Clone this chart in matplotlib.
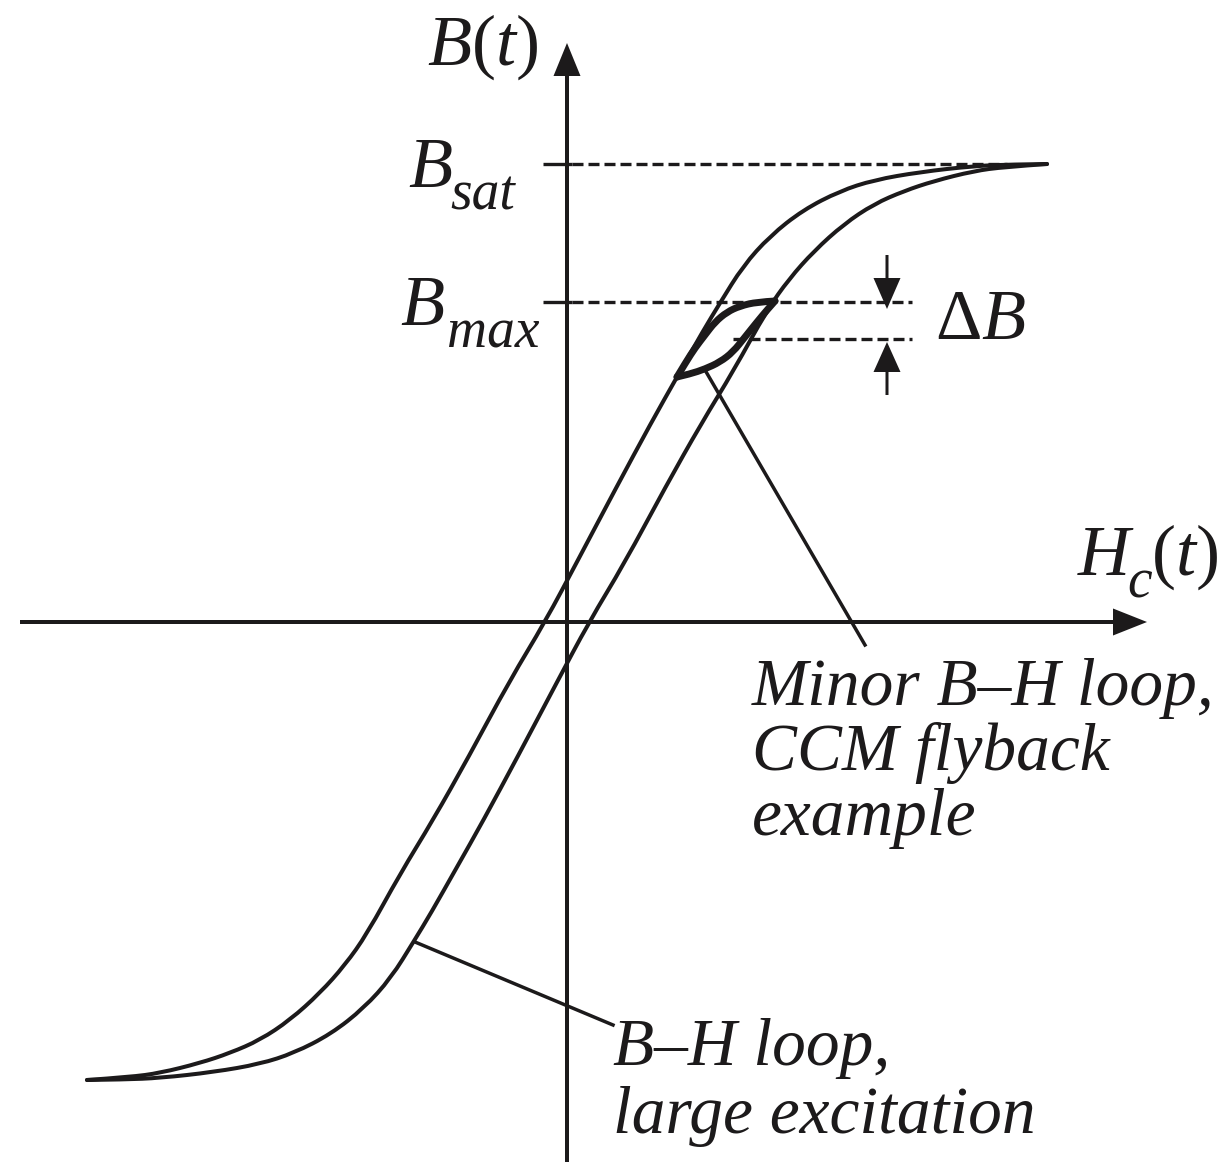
import matplotlib.pyplot as plt
from matplotlib.path import Path
from matplotlib.patches import PathPatch

plt.rcParams["font.family"] = ["Liberation Serif", "DejaVu Serif"]
plt.rcParams["mathtext.fontset"] = "custom"
plt.rcParams["mathtext.rm"] = "Liberation Serif"
plt.rcParams["mathtext.it"] = "Liberation Serif:italic"

INK = "#1c1a1b"

# large-excitation B-H loop, left (descending) branch
h_left = [-4.80, -4.37, -4.07, -3.67, -3.37, -3.07, -2.77, -2.47, -2.22, -2.00,
          -1.67, -1.34, -0.99, -0.57, -0.22, 0.11, 0.49, 0.84, 1.10, 1.36,
          1.53, 1.76, 2.03, 2.36, 2.73, 3.07, 3.53, 4.07, 4.43, 4.80]
b_left = [-4.58, -4.55, -4.51, -4.41, -4.31, -4.18, -3.98, -3.71, -3.43, -3.12,
          -2.52, -1.98, -1.36, -0.58, 0.00, 0.62, 1.34, 1.99, 2.45, 2.91,
          3.19, 3.56, 3.86, 4.12, 4.31, 4.42, 4.50, 4.56, 4.575, 4.58]

# right (ascending) branch
h_right = [-4.80, -4.43, -4.07, -3.53, -3.07, -2.73, -2.36, -2.03, -1.76, -1.53,
           -1.36, -1.10, -0.84, -0.49, -0.11, 0.22, 0.57, 0.99, 1.34, 1.67,
           2.00, 2.22, 2.47, 2.77, 3.07, 3.37, 3.67, 4.07, 4.37, 4.80]
b_right = [-4.58, -4.575, -4.56, -4.50, -4.42, -4.31, -4.12, -3.86, -3.56, -3.19,
           -2.91, -2.45, -1.99, -1.34, -0.62, 0.00, 0.58, 1.36, 1.98, 2.52,
           3.12, 3.43, 3.71, 3.98, 4.18, 4.31, 4.41, 4.51, 4.55, 4.58]

# minor loop (CCM flyback)
h_minor_up = [1.10, 1.19, 1.28, 1.38, 1.48, 1.60, 1.73, 1.90, 2.08]
b_minor_up = [2.45, 2.60, 2.74, 2.87, 3.00, 3.10, 3.16, 3.20, 3.21]
h_minor_dn = [1.10, 1.23, 1.38, 1.53, 1.66, 1.78, 1.90, 2.00, 2.08]
b_minor_dn = [2.45, 2.48, 2.53, 2.60, 2.70, 2.85, 3.00, 3.12, 3.21]

b_sat = 4.58
b_max = 3.20
b_low = 2.83   # lower edge of the delta-B band


def smooth_curve(ax, xs, ys, **kw):
    """Quadratic spline through the midpoints, points used as control nodes."""
    pts = list(zip(xs, ys))
    verts = [pts[0]]
    codes = [Path.MOVETO]
    for i in range(1, len(pts) - 1):
        mid = ((pts[i][0] + pts[i + 1][0]) / 2, (pts[i][1] + pts[i + 1][1]) / 2)
        if i == len(pts) - 2:
            mid = pts[-1]
        verts += [pts[i], mid]
        codes += [Path.CURVE3, Path.CURVE3]
    patch = PathPatch(Path(verts, codes), fill=False, edgecolor=INK,
                      capstyle="round", joinstyle="round", **kw)
    ax.add_patch(patch)


fig = plt.figure(figsize=(12.32, 11.67), dpi=100)
ax = fig.add_axes([0, 0, 1, 1])
ax.set_xlim(-5.67, 6.65)
ax.set_ylim(-5.45, 6.22)
ax.set_aspect("equal")
ax.axis("off")

# axes with arrowheads
ax.arrow(-5.47, 0, 11.27, 0, width=0.04, head_width=0.27, head_length=0.34,
         length_includes_head=True, fc=INK, ec="none")
ax.arrow(0, -5.40, 0, 11.19, width=0.04, head_width=0.27, head_length=0.33,
         length_includes_head=True, fc=INK, ec="none")

# reference levels
dash = (0, (3.3, 1.5))
for lev, x_end in [(b_sat, 4.40), (b_max, 3.45)]:
    ax.plot([-0.24, 0.05], [lev, lev], color=INK, lw=2.4, solid_capstyle="butt")
    ax.plot([0.05, x_end], [lev, lev], color=INK, lw=2.4, linestyle=dash)
ax.plot([1.66, 3.45], [b_low, b_low], color=INK, lw=2.4, linestyle=dash)

# delta-B arrows
ax.arrow(3.20, 3.67, 0, 3.13 - 3.67, width=0.03, head_width=0.27,
         head_length=0.31, length_includes_head=True, fc=INK, ec="none")
ax.arrow(3.20, 2.27, 0, 2.80 - 2.27, width=0.03, head_width=0.27,
         head_length=0.30, length_includes_head=True, fc=INK, ec="none")

# hysteresis curves
smooth_curve(ax, h_left, b_left, lw=2.9)
smooth_curve(ax, h_right, b_right, lw=2.9)
smooth_curve(ax, h_minor_up, b_minor_up, lw=5)
smooth_curve(ax, h_minor_dn, b_minor_dn, lw=5)

# leader lines
ax.plot([1.38, 2.98], [2.52, -0.23], color=INK, lw=2.5)
ax.plot([-1.52, 0.46], [-3.20, -4.03], color=INK, lw=2.5)

# labels
big = 52
sub = 40
ax.text(-1.40, 5.57, r"$B(t)$", fontsize=big, color=INK, va="baseline")
ax.text(-1.59, 4.35, "B", fontsize=big, style="italic", color=INK, va="baseline")
ax.text(-1.17, 4.12, "sat", fontsize=sub, style="italic", color=INK, va="baseline")
ax.text(-1.67, 2.97, "B", fontsize=big, style="italic", color=INK, va="baseline")
ax.text(-1.20, 2.75, "max", fontsize=sub, style="italic", color=INK, va="baseline")
ax.text(3.68, 2.83, r"$\Delta B$", fontsize=big, color=INK, va="baseline")
ax.text(5.11, 0.47, "H", fontsize=big, style="italic", color=INK, va="baseline")
ax.text(5.60, 0.24, "c", fontsize=sub, style="italic", color=INK, va="baseline")
ax.text(5.84, 0.47, r"$(t)$", fontsize=big, color=INK, va="baseline")

note = 48.5
for txt, yb in [("Minor B\u2013H loop,", -0.83), ("CCM flyback", -1.48),
                ("example", -2.13)]:
    ax.text(1.85, yb, txt, fontsize=note, style="italic", color=INK, va="baseline")
for txt, yb in [("B\u2013H loop,", -4.43), ("large excitation", -5.11)]:
    ax.text(0.46, yb, txt, fontsize=note, style="italic", color=INK, va="baseline")

fig.savefig("out.png", dpi=100)
